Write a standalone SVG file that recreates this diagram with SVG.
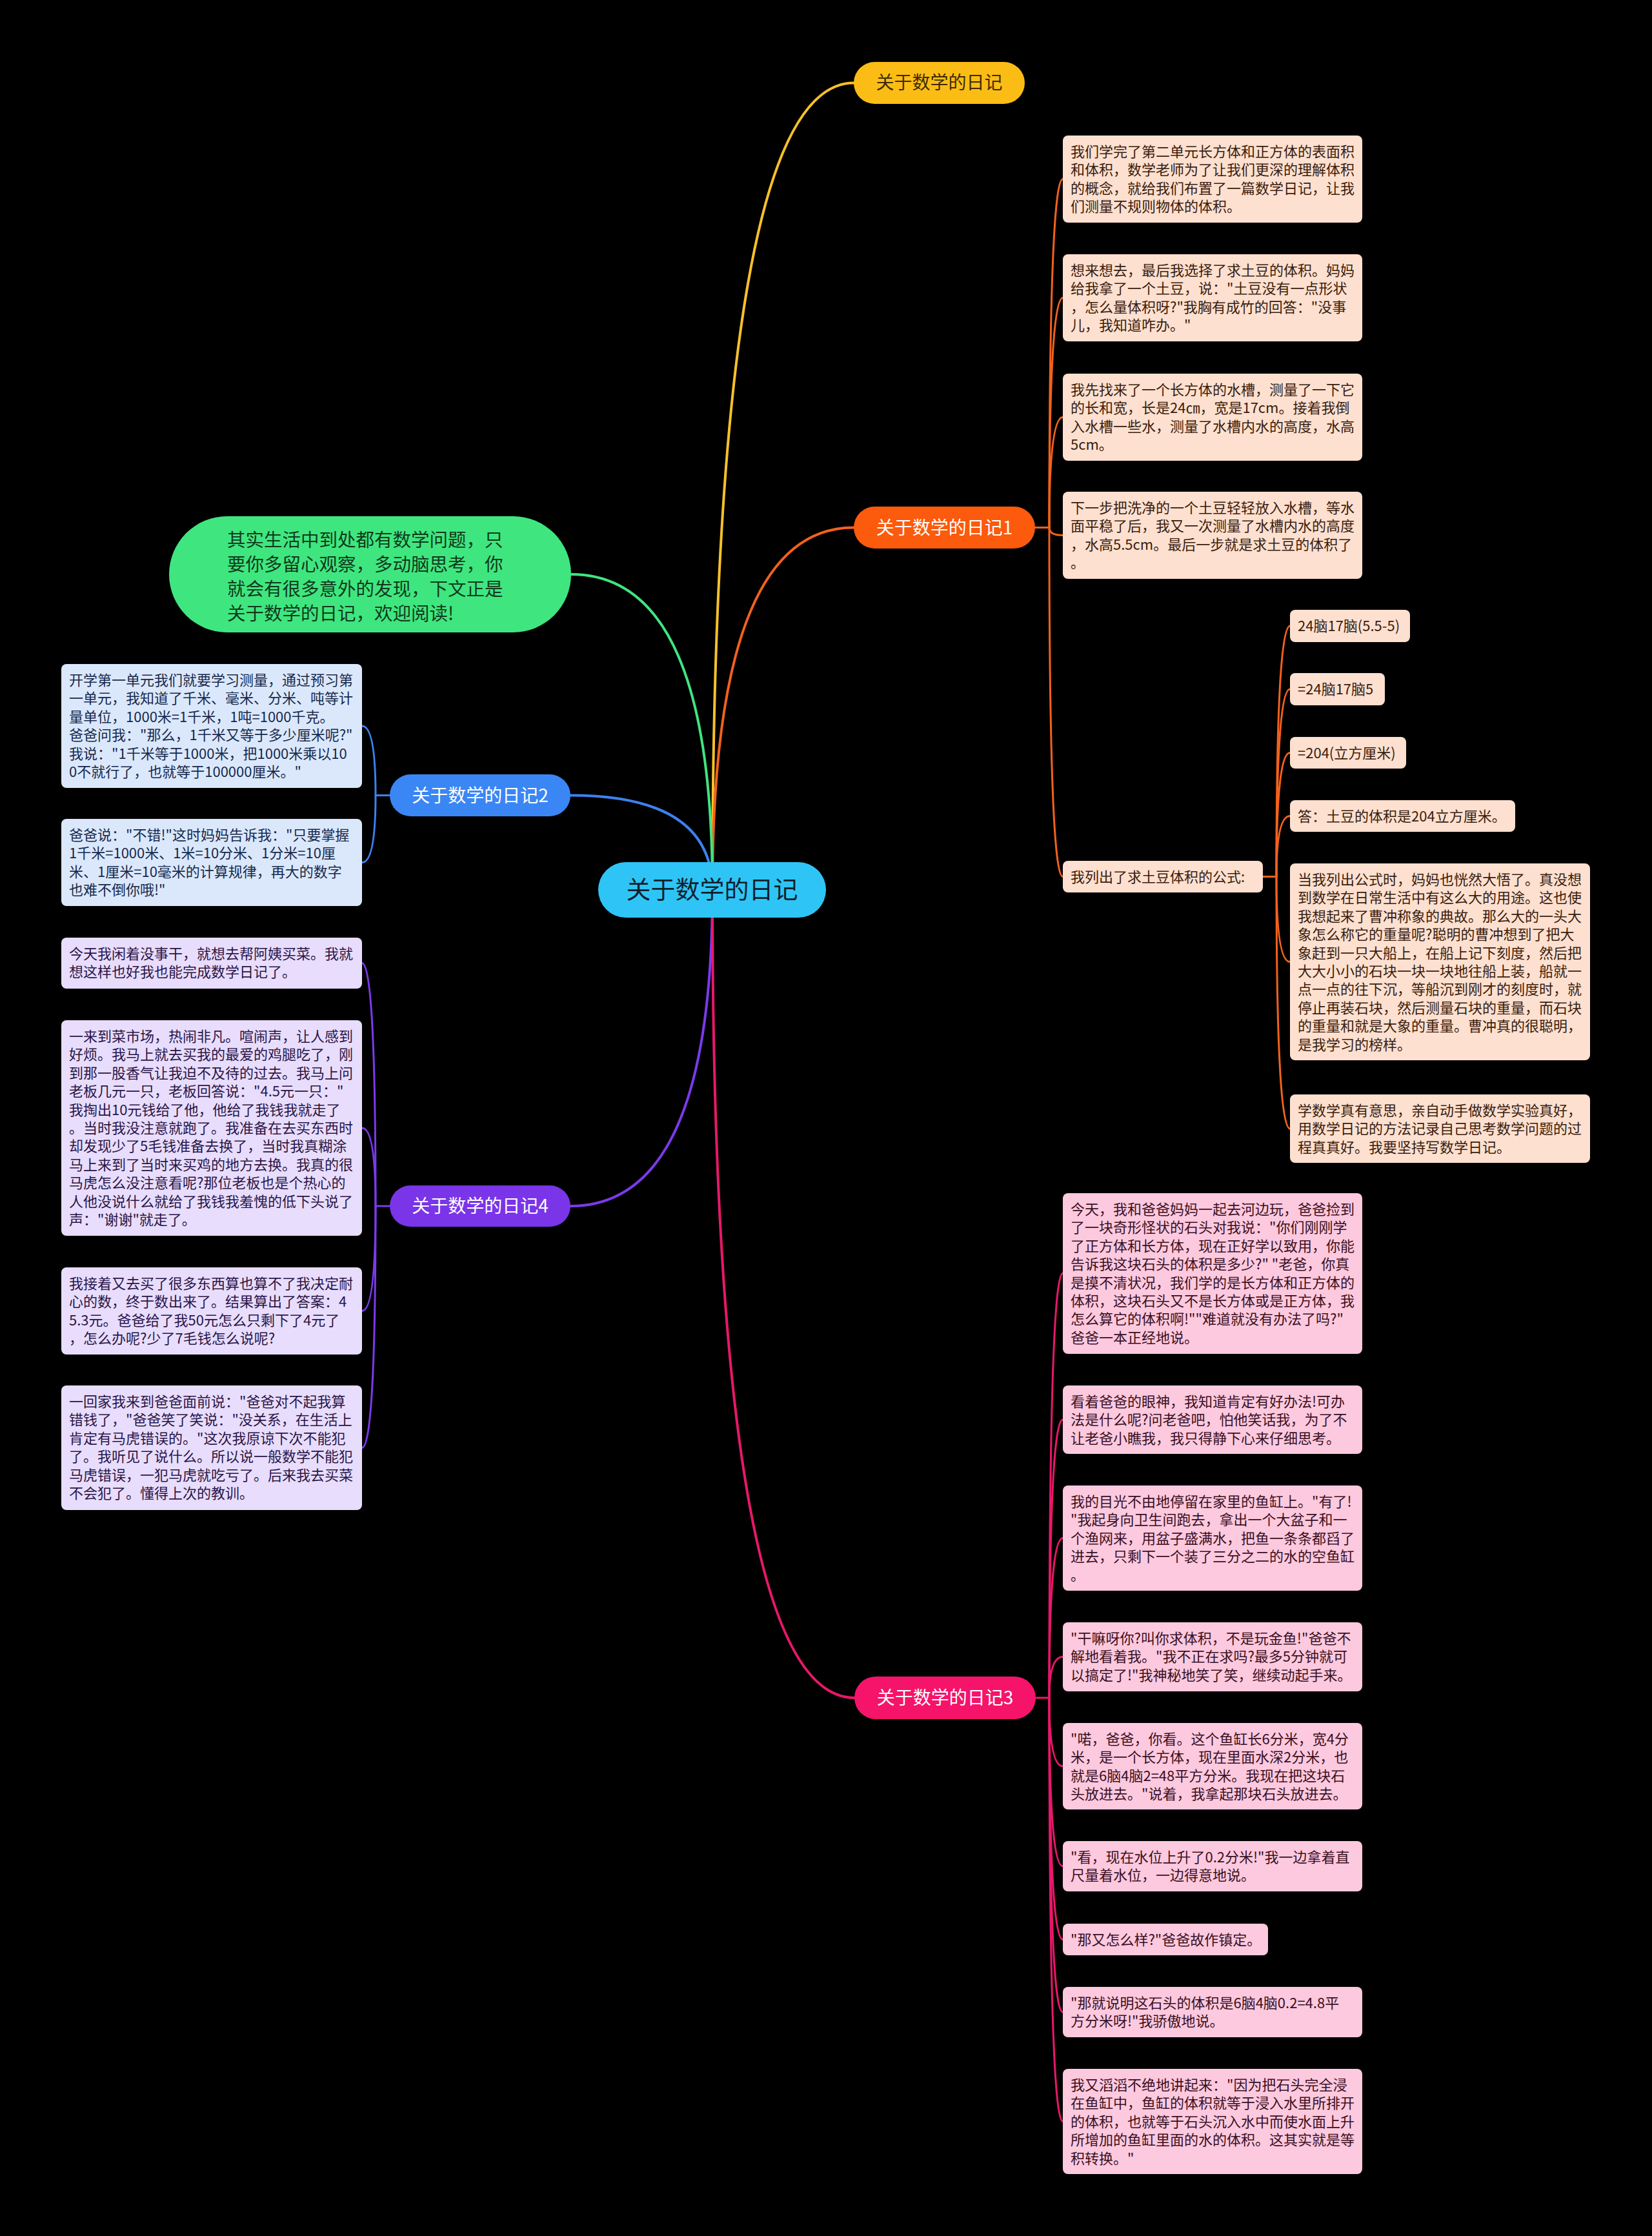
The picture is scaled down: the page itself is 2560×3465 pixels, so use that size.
<svg xmlns="http://www.w3.org/2000/svg" width="2560" height="3465" viewBox="0 0 2560 3465">
<style>
text{font-family:'Noto Sans CJK SC','Noto Sans',sans-serif;}
.t{font-size:22px;}
.peach{fill:#fde0cf;}
.pink{fill:#fdc9de;}
.lblue{fill:#dbe8fc;}
.lav{fill:#e8ddfc;}
.tp{fill:#3a1c0e;}
.tk{fill:#3a0f22;}
.tb{fill:#172a4c;}
.tv{fill:#2a1548;}
.l1{font-size:28px;}
.c{fill:none;stroke-width:4;stroke-linecap:round;}
.s{fill:none;stroke-width:3;stroke-linecap:round;}
</style>
<rect x="0" y="0" width="2560" height="3465" fill="#000000"/>
<g id="connectors">
<path class="c" stroke="#f8c12a" d="M1104 1379 Q1104 128.5 1323 128.5"/>
<path class="c" stroke="#f2621c" d="M1104 1379 Q1104 817.5 1323 817.5"/>
<path class="c" stroke="#40e580" d="M1104 1379 Q1104 890 885 890"/>
<path class="c" stroke="#3b82f0" d="M1104 1379 Q1104 1232.5 884 1232.5"/>
<path class="c" stroke="#7b3aea" d="M1104 1379 Q1104 1869 884 1869"/>
<path class="c" stroke="#e8186a" d="M1104 1379 Q1104 2631 1324 2631"/>
<g stroke="#f2621c">
<path class="s" d="M1604 817.5 H1626"/>
<path class="s" d="M1626 817.5 Q1626 277.5 1647 277.5"/>
<path class="s" d="M1626 817.5 Q1626 461.5 1647 461.5"/>
<path class="s" d="M1626 817.5 Q1626 646.5 1647 646.5"/>
<path class="s" d="M1626 817.5 Q1626 829.5 1647 829.5"/>
<path class="s" d="M1626 817.5 Q1626 1358.5 1647 1358.5"/>
<path class="s" d="M1957 1358.5 H1978"/>
<path class="s" d="M1978 1358.5 Q1978 970 1999 970"/>
<path class="s" d="M1978 1358.5 Q1978 1068 1999 1068"/>
<path class="s" d="M1978 1358.5 Q1978 1166.5 1999 1166.5"/>
<path class="s" d="M1978 1358.5 Q1978 1264.5 1999 1264.5"/>
<path class="s" d="M1978 1358.5 Q1978 1490.5 1999 1490.5"/>
<path class="s" d="M1978 1358.5 Q1978 1749 1999 1749"/>
</g>
<g stroke="#e8186a">
<path class="s" d="M1605 2631 H1626"/>
<path class="s" d="M1626 2631 Q1626 1973 1647 1973"/>
<path class="s" d="M1626 2631 Q1626 2200 1647 2200"/>
<path class="s" d="M1626 2631 Q1626 2383.5 1647 2383.5"/>
<path class="s" d="M1626 2631 Q1626 2567.5 1647 2567.5"/>
<path class="s" d="M1626 2631 Q1626 2737 1647 2737"/>
<path class="s" d="M1626 2631 Q1626 2892 1647 2892"/>
<path class="s" d="M1626 2631 Q1626 3005.5 1647 3005.5"/>
<path class="s" d="M1626 2631 Q1626 3118 1647 3118"/>
<path class="s" d="M1626 2631 Q1626 3287.5 1647 3287.5"/>
</g>
<g stroke="#3b82f0">
<path class="s" d="M604 1232.5 H582"/>
<path class="s" d="M582 1232.5 Q582 1125 561 1125"/>
<path class="s" d="M582 1232.5 Q582 1336.5 561 1336.5"/>
</g>
<g stroke="#7b3aea">
<path class="s" d="M604 1869 H582"/>
<path class="s" d="M582 1869 Q582 1492.5 561 1492.5"/>
<path class="s" d="M582 1869 Q582 1748 561 1748"/>
<path class="s" d="M582 1869 Q582 2031.5 561 2031.5"/>
<path class="s" d="M582 1869 Q582 2243.5 561 2243.5"/>
</g>
</g>

<g id="root">
<rect x="927" y="1336" width="353" height="86" rx="43" fill="#2ec5f6"/>
<text x="1103.5" y="1392" font-size="38" text-anchor="middle" fill="#10202c">关于数学的日记</text>
</g>

<g id="n-top">
<rect x="1323" y="96" width="265" height="65" rx="32.5" fill="#fbbd15"/>
<text class="l1" x="1455.5" y="138" text-anchor="middle" fill="#3d2b00">关于数学的日记</text>
</g>
<g id="n-1">
<rect x="1323" y="785" width="281" height="65" rx="32.5" fill="#fc5a0c"/>
<text class="l1" x="1463.5" y="827.5" text-anchor="middle" fill="#ffffff">关于数学的日记1</text>
</g>
<g id="n-3">
<rect x="1324" y="2598" width="281" height="66" rx="33" fill="#f5146a"/>
<text class="l1" x="1464.5" y="2641" text-anchor="middle" fill="#ffffff">关于数学的日记3</text>
</g>
<g id="n-2">
<rect x="604" y="1200" width="280" height="65" rx="32.5" fill="#3b86f5"/>
<text class="l1" x="744" y="1242.5" text-anchor="middle" fill="#ffffff">关于数学的日记2</text>
</g>
<g id="n-4">
<rect x="604" y="1837" width="280" height="64" rx="32" fill="#7a35e8"/>
<text class="l1" x="744" y="1879" text-anchor="middle" fill="#ffffff">关于数学的日记4</text>
</g>
<g id="n-intro">
<rect x="262" y="800" width="623" height="180" rx="90" fill="#3fe67f"/>
<text font-size="28.5" fill="#0f3a1c">
<tspan x="352" y="847">其实生活中到处都有数学问题，只</tspan>
<tspan x="352" y="885">要你多留心观察，多动脑思考，你</tspan>
<tspan x="352" y="923">就会有很多意外的发现，下文正是</tspan>
<tspan x="352" y="961">关于数学的日记，欢迎阅读!</tspan>
</text>
</g>

<g id="a1">
<rect class="peach" x="1647" y="210" width="464" height="135" rx="8"/>
<text class="t tp"><tspan x="1659" y="243">我们学完了第二单元长方体和正方体的表面积</tspan><tspan x="1659" dy="28.4">和体积，数学老师为了让我们更深的理解体积</tspan><tspan x="1659" dy="28.4">的概念，就给我们布置了一篇数学日记，让我</tspan><tspan x="1659" dy="28.4">们测量不规则物体的体积。</tspan></text>
</g>
<g id="a2">
<rect class="peach" x="1647" y="394" width="464" height="135" rx="8"/>
<text class="t tp"><tspan x="1659" y="427">想来想去，最后我选择了求土豆的体积。妈妈</tspan><tspan x="1659" dy="28.4">给我拿了一个土豆，说："土豆没有一点形状</tspan><tspan x="1659" dy="28.4">，怎么量体积呀?"我胸有成竹的回答："没事</tspan><tspan x="1659" dy="28.4">儿，我知道咋办。"</tspan></text>
</g>
<g id="a3">
<rect class="peach" x="1647" y="579" width="464" height="135" rx="8"/>
<text class="t tp"><tspan x="1659" y="612">我先找来了一个长方体的水槽，测量了一下它</tspan><tspan x="1659" dy="28.4">的长和宽，长是24㎝，宽是17cm。接着我倒</tspan><tspan x="1659" dy="28.4">入水槽一些水，测量了水槽内水的高度，水高</tspan><tspan x="1659" dy="28.4">5cm。</tspan></text>
</g>
<g id="a4">
<rect class="peach" x="1647" y="762" width="464" height="135" rx="8"/>
<text class="t tp"><tspan x="1659" y="795">下一步把洗净的一个土豆轻轻放入水槽，等水</tspan><tspan x="1659" dy="28.4">面平稳了后，我又一次测量了水槽内水的高度</tspan><tspan x="1659" dy="28.4">，水高5.5cm。最后一步就是求土豆的体积了</tspan><tspan x="1659" dy="28.4">。</tspan></text>
</g>
<g id="a5">
<rect class="peach" x="1647" y="1334" width="310" height="49" rx="8"/>
<text class="t tp" x="1659" y="1367">我列出了求土豆体积的公式:</text>
</g>
<g id="f1">
<rect class="peach" x="1999" y="945" width="186" height="50" rx="8"/>
<text class="t tp" x="2011" y="978">24脑17脑(5.5-5)</text>
</g>
<g id="f2">
<rect class="peach" x="1999" y="1043" width="147" height="50" rx="8"/>
<text class="t tp" x="2011" y="1076">=24脑17脑5</text>
</g>
<g id="f3">
<rect class="peach" x="1999" y="1142" width="180" height="49" rx="8"/>
<text class="t tp" x="2011" y="1175">=204(立方厘米)</text>
</g>
<g id="f4">
<rect class="peach" x="1999" y="1240" width="349" height="49" rx="8"/>
<text class="t tp" x="2011" y="1273">答：土豆的体积是204立方厘米。</text>
</g>
<g id="f5">
<rect class="peach" x="1999" y="1338" width="465" height="305" rx="8"/>
<text class="t tp"><tspan x="2011" y="1371">当我列出公式时，妈妈也恍然大悟了。真没想</tspan><tspan x="2011" dy="28.4">到数学在日常生活中有这么大的用途。这也使</tspan><tspan x="2011" dy="28.4">我想起来了曹冲称象的典故。那么大的一头大</tspan><tspan x="2011" dy="28.4">象怎么称它的重量呢?聪明的曹冲想到了把大</tspan><tspan x="2011" dy="28.4">象赶到一只大船上，在船上记下刻度，然后把</tspan><tspan x="2011" dy="28.4">大大小小的石块一块一块地往船上装，船就一</tspan><tspan x="2011" dy="28.4">点一点的往下沉，等船沉到刚才的刻度时，就</tspan><tspan x="2011" dy="28.4">停止再装石块，然后测量石块的重量，而石块</tspan><tspan x="2011" dy="28.4">的重量和就是大象的重量。曹冲真的很聪明，</tspan><tspan x="2011" dy="28.4">是我学习的榜样。</tspan></text>
</g>
<g id="f6">
<rect class="peach" x="1999" y="1696" width="465" height="106" rx="8"/>
<text class="t tp"><tspan x="2011" y="1729">学数学真有意思，亲自动手做数学实验真好，</tspan><tspan x="2011" dy="28.4">用数学日记的方法记录自己思考数学问题的过</tspan><tspan x="2011" dy="28.4">程真真好。我要坚持写数学日记。</tspan></text>
</g>

<g id="p1">
<rect class="pink" x="1647" y="1849" width="464" height="249" rx="8"/>
<text class="t tk"><tspan x="1659" y="1882">今天，我和爸爸妈妈一起去河边玩，爸爸捡到</tspan><tspan x="1659" dy="28.4">了一块奇形怪状的石头对我说："你们刚刚学</tspan><tspan x="1659" dy="28.4">了正方体和长方体，现在正好学以致用，你能</tspan><tspan x="1659" dy="28.4">告诉我这块石头的体积是多少?" "老爸，你真</tspan><tspan x="1659" dy="28.4">是摸不清状况，我们学的是长方体和正方体的</tspan><tspan x="1659" dy="28.4">体积，这块石头又不是长方体或是正方体，我</tspan><tspan x="1659" dy="28.4">怎么算它的体积啊!""难道就没有办法了吗?"</tspan><tspan x="1659" dy="28.4">爸爸一本正经地说。</tspan></text>
</g>
<g id="p2">
<rect class="pink" x="1647" y="2147" width="464" height="106" rx="8"/>
<text class="t tk"><tspan x="1659" y="2180">看着爸爸的眼神，我知道肯定有好办法!可办</tspan><tspan x="1659" dy="28.4">法是什么呢?问老爸吧，怕他笑话我，为了不</tspan><tspan x="1659" dy="28.4">让老爸小瞧我，我只得静下心来仔细思考。</tspan></text>
</g>
<g id="p3">
<rect class="pink" x="1647" y="2302" width="464" height="163" rx="8"/>
<text class="t tk"><tspan x="1659" y="2335">我的目光不由地停留在家里的鱼缸上。"有了!</tspan><tspan x="1659" dy="28.4">"我起身向卫生间跑去，拿出一个大盆子和一</tspan><tspan x="1659" dy="28.4">个渔网来，用盆子盛满水，把鱼一条条都舀了</tspan><tspan x="1659" dy="28.4">进去，只剩下一个装了三分之二的水的空鱼缸</tspan><tspan x="1659" dy="28.4">。</tspan></text>
</g>
<g id="p4">
<rect class="pink" x="1647" y="2514" width="464" height="107" rx="8"/>
<text class="t tk"><tspan x="1659" y="2547">"干嘛呀你?叫你求体积，不是玩金鱼!"爸爸不</tspan><tspan x="1659" dy="28.4">解地看着我。"我不正在求吗?最多5分钟就可</tspan><tspan x="1659" dy="28.4">以搞定了!"我神秘地笑了笑，继续动起手来。</tspan></text>
</g>
<g id="p5">
<rect class="pink" x="1647" y="2670" width="464" height="134" rx="8"/>
<text class="t tk"><tspan x="1659" y="2703">"喏，爸爸，你看。这个鱼缸长6分米，宽4分</tspan><tspan x="1659" dy="28.4">米，是一个长方体，现在里面水深2分米，也</tspan><tspan x="1659" dy="28.4">就是6脑4脑2=48平方分米。我现在把这块石</tspan><tspan x="1659" dy="28.4">头放进去。"说着，我拿起那块石头放进去。</tspan></text>
</g>
<g id="p6">
<rect class="pink" x="1647" y="2853" width="464" height="78" rx="8"/>
<text class="t tk"><tspan x="1659" y="2886">"看，现在水位上升了0.2分米!"我一边拿着直</tspan><tspan x="1659" dy="28.4">尺量着水位，一边得意地说。</tspan></text>
</g>
<g id="p7">
<rect class="pink" x="1647" y="2981" width="318" height="49" rx="8"/>
<text class="t tk" x="1659" y="3014">"那又怎么样?"爸爸故作镇定。</text>
</g>
<g id="p8">
<rect class="pink" x="1647" y="3079" width="464" height="78" rx="8"/>
<text class="t tk"><tspan x="1659" y="3112">"那就说明这石头的体积是6脑4脑0.2=4.8平</tspan><tspan x="1659" dy="28.4">方分米呀!"我骄傲地说。</tspan></text>
</g>
<g id="p9">
<rect class="pink" x="1647" y="3206" width="464" height="163" rx="8"/>
<text class="t tk"><tspan x="1659" y="3239">我又滔滔不绝地讲起来："因为把石头完全浸</tspan><tspan x="1659" dy="28.4">在鱼缸中，鱼缸的体积就等于浸入水里所排开</tspan><tspan x="1659" dy="28.4">的体积，也就等于石头沉入水中而使水面上升</tspan><tspan x="1659" dy="28.4">所增加的鱼缸里面的水的体积。这其实就是等</tspan><tspan x="1659" dy="28.4">积转换。"</tspan></text>
</g>

<g id="b1">
<rect class="lblue" x="95" y="1029" width="466" height="192" rx="8"/>
<text class="t tb"><tspan x="107" y="1062">开学第一单元我们就要学习测量，通过预习第</tspan><tspan x="107" dy="28.4">一单元，我知道了千米、毫米、分米、吨等计</tspan><tspan x="107" dy="28.4">量单位，1000米=1千米，1吨=1000千克。</tspan><tspan x="107" dy="28.4">爸爸问我："那么，1千米又等于多少厘米呢?"</tspan><tspan x="107" dy="28.4">我说："1千米等于1000米，把1000米乘以10</tspan><tspan x="107" dy="28.4">0不就行了，也就等于100000厘米。"</tspan></text>
</g>
<g id="b2">
<rect class="lblue" x="95" y="1269" width="466" height="135" rx="8"/>
<text class="t tb"><tspan x="107" y="1302">爸爸说："不错!"这时妈妈告诉我："只要掌握</tspan><tspan x="107" dy="28.4">1千米=1000米、1米=10分米、1分米=10厘</tspan><tspan x="107" dy="28.4">米、1厘米=10毫米的计算规律，再大的数字</tspan><tspan x="107" dy="28.4">也难不倒你哦!"</tspan></text>
</g>

<g id="d1">
<rect class="lav" x="95" y="1453" width="466" height="79" rx="8"/>
<text class="t tv"><tspan x="107" y="1486">今天我闲着没事干，就想去帮阿姨买菜。我就</tspan><tspan x="107" dy="28.4">想这样也好我也能完成数学日记了。</tspan></text>
</g>
<g id="d2">
<rect class="lav" x="95" y="1581" width="466" height="334" rx="8"/>
<text class="t tv"><tspan x="107" y="1614">一来到菜市场，热闹非凡。喧闹声，让人感到</tspan><tspan x="107" dy="28.4">好烦。我马上就去买我的最爱的鸡腿吃了，刚</tspan><tspan x="107" dy="28.4">到那一股香气让我迫不及待的过去。我马上问</tspan><tspan x="107" dy="28.4">老板几元一只，老板回答说："4.5元一只："</tspan><tspan x="107" dy="28.4">我掏出10元钱给了他，他给了我钱我就走了</tspan><tspan x="107" dy="28.4">。当时我没注意就跑了。我准备在去买东西时</tspan><tspan x="107" dy="28.4">却发现少了5毛钱准备去换了，当时我真糊涂</tspan><tspan x="107" dy="28.4">马上来到了当时来买鸡的地方去换。我真的很</tspan><tspan x="107" dy="28.4">马虎怎么没注意看呢?那位老板也是个热心的</tspan><tspan x="107" dy="28.4">人他没说什么就给了我钱我羞愧的低下头说了</tspan><tspan x="107" dy="28.4">声："谢谢"就走了。</tspan></text>
</g>
<g id="d3">
<rect class="lav" x="95" y="1964" width="466" height="135" rx="8"/>
<text class="t tv"><tspan x="107" y="1997">我接着又去买了很多东西算也算不了我决定耐</tspan><tspan x="107" dy="28.4">心的数，终于数出来了。结果算出了答案：4</tspan><tspan x="107" dy="28.4">5.3元。爸爸给了我50元怎么只剩下了4元了</tspan><tspan x="107" dy="28.4">，怎么办呢?少了7毛钱怎么说呢?</tspan></text>
</g>
<g id="d4">
<rect class="lav" x="95" y="2147" width="466" height="193" rx="8"/>
<text class="t tv"><tspan x="107" y="2180">一回家我来到爸爸面前说："爸爸对不起我算</tspan><tspan x="107" dy="28.4">错钱了，"爸爸笑了笑说："没关系，在生活上</tspan><tspan x="107" dy="28.4">肯定有马虎错误的。"这次我原谅下次不能犯</tspan><tspan x="107" dy="28.4">了。我听见了说什么。所以说一般数学不能犯</tspan><tspan x="107" dy="28.4">马虎错误，一犯马虎就吃亏了。后来我去买菜</tspan><tspan x="107" dy="28.4">不会犯了。懂得上次的教训。</tspan></text>
</g>
</svg>
